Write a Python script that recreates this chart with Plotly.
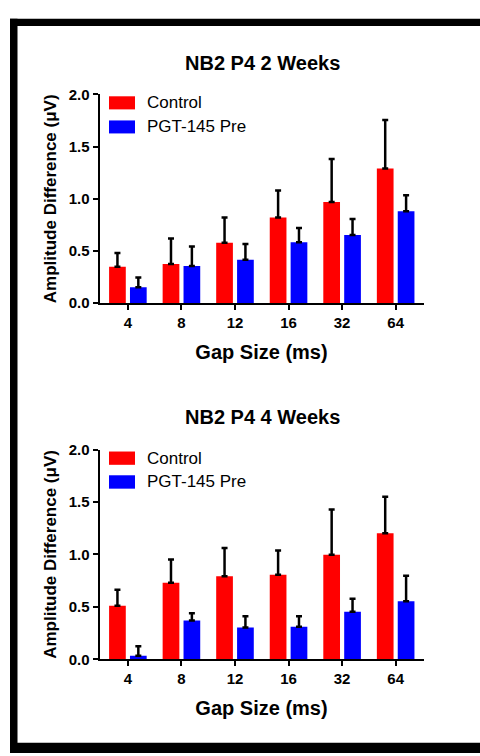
import plotly.graph_objects as go

# Gap sizes (ms) on the x axis
gap_labels = ["4", "8", "12", "16", "32", "64"]

# NB2 P4, 2 weeks: group means and upper SEM
control_2wk = [0.35, 0.375, 0.58, 0.82, 0.97, 1.29]
control_2wk_err = [0.13, 0.245, 0.24, 0.26, 0.41, 0.465]
pgt_2wk = [0.153, 0.356, 0.416, 0.584, 0.653, 0.881]
pgt_2wk_err = [0.093, 0.187, 0.152, 0.136, 0.153, 0.153]

# NB2 P4, 4 weeks: group means and upper SEM
control_4wk = [0.512, 0.73, 0.792, 0.807, 0.997, 1.202]
control_4wk_err = [0.152, 0.223, 0.269, 0.23, 0.431, 0.347]
pgt_4wk = [0.034, 0.37, 0.304, 0.31, 0.453, 0.553]
pgt_4wk_err = [0.09, 0.07, 0.108, 0.102, 0.124, 0.244]

panel_titles = ["NB2 P4 2 Weeks", "NB2 P4 4 Weeks"]
series_names = ["Control", "PGT-145 Pre"]
series_colors = ["#ff0000", "#0000ff"]

W, H = 480, 756
FONT = "Liberation Sans, Arial, sans-serif"


def px_x(p):
    return p / W


def px_y(p):
    return 1 - p / H


fig = go.Figure()

panels = [
    ((control_2wk, control_2wk_err), (pgt_2wk, pgt_2wk_err), "x", "y"),
    ((control_4wk, control_4wk_err), (pgt_4wk, pgt_4wk_err), "x2", "y2"),
]

for ctrl, pgt, xa, ya in panels:
    for (vals, errs), name, color in zip([ctrl, pgt], series_names, series_colors):
        fig.add_trace(go.Bar(
            x=gap_labels, y=vals, name=name,
            marker=dict(color=color, line=dict(width=0)),
            error_y=dict(type="data", symmetric=False, array=errs,
                         arrayminus=[0] * len(errs),
                         color="black", thickness=2.5, width=3),
            xaxis=xa, yaxis=ya, showlegend=False,
        ))

# plot-area geometry in pixels: (y of 2.0, y of 0.0)
panel_px = [(87.3, 301.0), (450.7, 665.3)]
x_left, x_right = 99.5, 423.5

axis_common = dict(showline=True, linecolor="black", linewidth=2,
                   ticks="outside", ticklen=5, tickwidth=2, tickcolor="black",
                   showgrid=False, zeroline=False,
                   tickfont=dict(family=FONT, size=15, color="black", weight="bold"))

layout = dict(
    width=W, height=H,
    margin=dict(l=0, r=0, t=0, b=0),
    paper_bgcolor="white", plot_bgcolor="white",
    barmode="group", bargap=0.22, bargroupgap=0.2,
    showlegend=False,
)

for i, (ytop, ybot) in enumerate(panel_px):
    sfx = "" if i == 0 else str(i + 1)
    layout["xaxis" + sfx] = dict(
        axis_common, type="category", range=[-0.53, 5.52],
        domain=[px_x(x_left), px_x(x_right)],
        anchor="y" + sfx,
        title=dict(text="Gap Size (ms)", standoff=15,
                   font=dict(family=FONT, size=20, color="black", weight="bold")),
    )
    layout["yaxis" + sfx] = dict(
        axis_common, range=[0, 2.0], dtick=0.5, tickformat=".1f",
        domain=[px_y(ybot), px_y(ytop)],
        anchor="x" + sfx,
        title=dict(text="Amplitude Difference (\u03bcV)", standoff=8,
                   font=dict(family=FONT, size=17, color="black", weight="bold")),
    )

fig.update_layout(**layout)

shapes = []
annotations = []

# panel titles
for title, yc in zip(panel_titles, [55, 417.3]):
    annotations.append(dict(
        text=title, x=px_x(262), y=px_y(yc), xref="paper", yref="paper",
        xanchor="center", yanchor="middle", showarrow=False,
        font=dict(family=FONT, size=20, color="black", weight="bold"),
    ))

# legend boxes for each panel
legend_rows = [[(89.3, 102.7), (114, 127.3)], [(452.7, 466.3), (477, 490.7)]]
for rows in legend_rows:
    for (y0, y1), name, color in zip(rows, series_names, series_colors):
        shapes.append(dict(type="rect", xref="paper", yref="paper",
                           x0=px_x(109), x1=px_x(135), y0=px_y(y1), y1=px_y(y0),
                           fillcolor=color, line=dict(width=0)))
        annotations.append(dict(
            text=name, x=px_x(145), y=px_y((y0 + y1) / 2),
            xref="paper", yref="paper", xanchor="left", yanchor="middle",
            showarrow=False,
            font=dict(family=FONT, size=17, color="black"),
        ))

# black frame around the figure (left, top, bottom)
frame = [
    (10, 17.5, 10, H + 5),
    (10, W + 5, 10, 17.5),
    (10, W + 5, 750.7, H + 5),
]
for x0, x1, y0, y1 in frame:
    shapes.append(dict(type="rect", xref="paper", yref="paper",
                       x0=px_x(x0), x1=px_x(x1), y0=px_y(y1), y1=px_y(y0),
                       fillcolor="black", line=dict(width=0), layer="above"))

fig.update_layout(shapes=shapes, annotations=annotations)

fig.write_html("out.html")
